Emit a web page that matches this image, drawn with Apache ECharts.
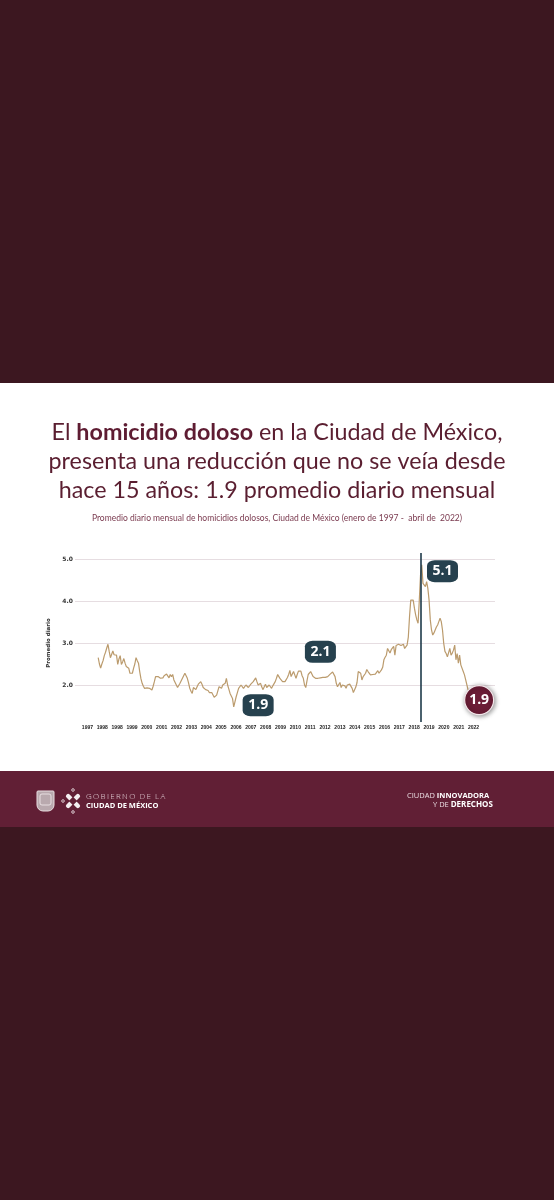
<!DOCTYPE html>
<html><head><meta charset="utf-8">
<script src="https://cdn.jsdelivr.net/npm/echarts@6/dist/echarts.min.js"></script>
<style>
html,body{margin:0;padding:0;background:#3c1720;}
#wrap{position:relative;width:554px;height:1200px;background:#3c1720;}
#panel{position:absolute;left:0;top:383px;width:554px;height:388px;background:#ffffff;}
#band{position:absolute;left:0;top:771px;width:554px;height:56px;background:#611f35;}
#c{position:absolute;left:0;top:0;width:554px;height:1200px;}
</style>
</head><body>
<div id="wrap"><div id="panel"></div><div id="band"></div><div id="c"></div></div>
<script>
// Tick labels as printed under the chart (note the duplicated 1998)
const tickLabels = ['1997','1998','1998','1999','2000','2001','2002','2003','2004','2005','2006','2007','2008','2009','2010','2011','2012','2013','2014','2015','2016','2017','2018','2019','2020','2021','2022'];

// Monthly daily average of homicides, Jan 1997 - Apr 2022
const y1997 = [2.65,2.50,2.40,2.50,2.58,2.70,2.78,2.88,2.97,2.80,2.65,2.62];
const y1998 = [2.81,2.72,2.68,2.71,2.49,2.62,2.70,2.49,2.55,2.63,2.52,2.44];
const y1999 = [2.42,2.40,2.28,2.30,2.28,2.40,2.50,2.65,2.58,2.52,2.32,2.15];
const y2000 = [2.04,1.97,1.92,1.94,1.93,1.95,1.92,1.90,1.88,1.97,2.08,2.20];
const y2001 = [2.21,2.20,2.18,2.16,2.20,2.17,2.22,2.25,2.26,2.28,2.17,2.25];
const y2002 = [2.20,2.25,2.12,2.08,2.00,1.94,1.98,2.04,2.06,2.16,2.22,2.28];
const y2003 = [2.22,2.16,2.05,1.92,1.85,1.80,1.94,1.90,1.89,1.96,2.02,2.04];
const y2004 = [2.08,2.02,1.94,1.92,1.89,1.88,1.87,1.82,1.78,1.82,1.84,1.71];
const y2005 = [1.74,1.76,1.86,1.96,1.92,1.92,2.00,1.98,2.04,2.16,2.00,1.90];
const y2006 = [1.80,1.74,1.68,1.48,1.60,1.72,1.82,1.92,1.96,2.00,1.98,1.92];
const y2007 = [1.95,2.00,1.96,1.94,1.98,2.02,2.04,2.08,2.12,2.17,2.08,2.00];
const y2008 = [2.04,2.04,1.95,1.89,1.96,2.02,1.94,1.97,2.00,1.96,1.92,1.98];
const y2009 = [2.02,2.08,2.16,2.25,2.20,2.15,2.12,2.08,2.06,2.08,2.10,2.18];
const y2010 = [2.25,2.35,2.20,2.26,2.32,2.24,2.16,2.25,2.33,2.30,2.33,2.22];
const y2011 = [2.16,2.00,1.94,2.10,2.25,2.28,2.32,2.26,2.20,2.22,2.16,2.12];
const y2012 = [2.16,2.20,2.17,2.13,2.18,2.20,2.18,2.16,2.20,2.24,2.26,2.28];
const y2013 = [2.31,2.34,2.20,2.04,1.96,1.92,2.06,1.94,2.00,2.04,1.98,1.92];
const y2014 = [2.00,1.96,2.02,2.04,1.92,1.82,1.86,1.95,2.06,2.32,2.30,2.28];
const y2015 = [2.12,2.20,2.24,2.28,2.37,2.32,2.28,2.24,2.26,2.25,2.24,2.26];
const y2016 = [2.30,2.34,2.28,2.31,2.36,2.42,2.60,2.66,2.71,2.87,2.84,2.76];
const y2017 = [2.84,2.88,2.92,2.71,2.94,2.95,2.97,2.96,2.94,2.95,2.97,2.87];
const y2018 = [2.83,2.95,3.14,3.63,4.02,4.04,4.02,3.83,3.67,3.55,3.47,4.02];
const y2019 = [4.62,4.86,4.42,4.46,4.34,4.46,4.30,4.02,3.55,3.31,3.19,3.24];
const y2020 = [3.31,3.38,3.43,3.51,3.59,3.51,3.31,2.99,2.80,2.75,2.67,2.67];
const y2021 = [2.87,2.71,2.76,2.83,2.95,2.60,2.75,2.52,2.71,2.48,2.44,2.32];
const y2022 = [2.24,2.12,2.00,1.88];

const monthly = [].concat(y1997,y1998,y1999,y2000,y2001,y2002,y2003,y2004,y2005,y2006,y2007,y2008,y2009,
  y2010,y2011,y2012,y2013,y2014,y2015,y2016,y2017,y2018,y2019,y2020,y2021,y2022);

// Annotations (text and their anchor in month-index / value space)
const badgeTexts  = ['1.9','2.1','5.1','1.9'];
const badgeMonth  = [131, 182, 282, 312];
const badgeValue  = [1.52, 2.79, 4.71, 1.64];
const markerMonth = 264; // vertical reference line (change of administration)

const chart = echarts.init(document.getElementById('c'), null, {renderer:'canvas'});
const maroon = '#5a1e30';
const slate = '#26414e';
const titleFont = 'Lato';
const tSize = 23.3;

const badgeData = badgeTexts.map((t,i)=>{
  const last = i === badgeTexts.length-1;
  return {
    name: t, coord: [badgeMonth[i], badgeValue[i]],
    symbol: last ? 'circle' : 'roundRect',
    symbolSize: last ? 29 : [31,22],
    itemStyle: last
      ? {color:'#6b1d36', borderColor:'#f3e6ea', borderWidth:1.2, shadowBlur:5, shadowColor:'rgba(0,0,0,0.45)', shadowOffsetX:1, shadowOffsetY:1}
      : {color: slate}
  };
});

const option = {
  backgroundColor: 'transparent',
  animation: false,
  title: [
    {left:'center', top:416, text:'{r|El }{b|homicidio doloso}{r| en la Ciudad de México,}',
      textStyle:{fontWeight:'normal', rich:{r:{fontSize:tSize,fontFamily:titleFont,fontWeight:'normal',color:maroon},b:{fontSize:tSize,fontFamily:titleFont,fontWeight:'bold',color:'#5e1c32'}}}},
    {left:'center', top:445, text:'presenta una reducción que no se veía desde',
      textStyle:{fontSize:tSize,fontFamily:titleFont,fontWeight:'normal',color:maroon}},
    {left:'center', top:474, text:'hace 15 años: 1.9 promedio diario mensual',
      textStyle:{fontSize:tSize,fontFamily:titleFont,fontWeight:'normal',color:maroon}},
    {left:'center', top:509, text:'Promedio diario mensual de homicidios dolosos, Ciudad de México (enero de 1997 -  abril de  2022)',
      textStyle:{fontSize:8.5,fontFamily:titleFont,fontWeight:'normal',color:'#7a3a4f'}}
  ],
  grid: [
    {left:75, right:59, top:559, height:168},
    {left:80, width:401, top:700, height:20},
    {left:75, right:59, top:553, height:169}
  ],
  xAxis: [
    {gridIndex:0, type:'value', min:-19, max:325, show:false},
    {gridIndex:1, type:'category', data:tickLabels, boundaryGap:true,
      axisLine:{show:false}, axisTick:{show:false},
      axisLabel:{interval:0, fontSize:5, fontWeight:'bold', color:'#222', margin:5, fontFamily:'Liberation Sans'}},
    {gridIndex:2, type:'value', min:-19, max:325, show:false}
  ],
  yAxis: [
    {gridIndex:0, type:'value', min:1, max:5, interval:1,
      axisLine:{show:false}, axisTick:{show:false},
      axisLabel:{formatter:(v)=> v===1 ? '' : v.toFixed(1), fontSize:6, fontWeight:'bold', color:'#333', margin:2, fontFamily:'DejaVu Sans'},
      splitLine:{show:true, lineStyle:{color:['rgba(0,0,0,0)','#e6dde1','#e6dde1','#e6dde1','#e6dde1'], width:1}},
      name:'Promedio diario', nameLocation:'middle', nameGap:10, nameRotate:90,
      nameTextStyle:{fontSize:5.5, fontWeight:'bold', color:'#333', fontFamily:'DejaVu Sans'}},
    {gridIndex:1, type:'value', show:false},
    {gridIndex:2, type:'value', min:0, max:1, show:false}
  ],
  series: [
    {type:'line', xAxisIndex:0, yAxisIndex:0, data: monthly.map((v,i)=>[i,v]),
      showSymbol:false, symbol:'none', lineStyle:{color:'#bb9b6d', width:1.2}, z:3,
      markPoint:{silent:true, data: badgeData,
        label:{show:true, position:'inside', formatter:(p)=>p.name, color:'#fff', fontSize:14, fontWeight:'bold', fontFamily:'Open Sans'}}},
    {type:'line', xAxisIndex:2, yAxisIndex:2, data:[], symbol:'none', z:4,
      markLine:{silent:true, symbol:'none', label:{show:false},
        lineStyle:{color:'#1e3a4a', width:1.6, type:'solid'},
        data:[{xAxis: markerMonth}]}}
  ],
  graphic: [
    // shield emblem
    {type:'rect', shape:{x:37,y:791,width:17,height:20,r:[1,1,6,6]}, style:{fill:'#b9a9ae', stroke:'#e8dde0', lineWidth:1}},
    {type:'rect', shape:{x:40,y:794,width:11,height:11,r:2}, style:{fill:'none', stroke:'#f2ebed', lineWidth:0.8}},
    // CDMX symbol
    {type:'group', x:73, y:801, children:[
      {type:'rect', shape:{x:-9,y:-2.2,width:18,height:4.4,r:2}, rotation:Math.PI/4, style:{fill:'#f4eef0'}},
      {type:'rect', shape:{x:-9,y:-2.2,width:18,height:4.4,r:2}, rotation:-Math.PI/4, style:{fill:'#f4eef0'}},
      {type:'rect', shape:{x:-3,y:-3,width:6,height:6}, rotation:Math.PI/4, style:{fill:'#611f35'}},
      {type:'circle', shape:{cx:0,cy:-11,r:1.3}, style:{fill:'none',stroke:'#f4eef0',lineWidth:0.8}},
      {type:'circle', shape:{cx:0,cy:11,r:1.3}, style:{fill:'none',stroke:'#f4eef0',lineWidth:0.8}},
      {type:'circle', shape:{cx:-10,cy:0,r:1.3}, style:{fill:'none',stroke:'#f4eef0',lineWidth:0.8}}
    ]},
    {type:'text', left:86, top:793, style:{text:'G\u2009O\u2009B\u2009I\u2009E\u2009R\u2009N\u2009O  D\u2009E  L\u2009A', fill:'#e4d2d8', font:'300 8px "Open Sans"'}},
    {type:'text', left:86, top:802, style:{text:'CIUDAD DE MÉXICO', fill:'#ffffff', font:'bold 7.5px "Open Sans"'}},
    {type:'text', left:407, top:792, style:{text:'{n|CIUDAD }{b|INNOVADORA}',
      rich:{n:{fontSize:7.5,fontFamily:'Open Sans',fill:'#e9dbe0',color:'#e9dbe0'},b:{fontSize:7.5,fontFamily:'Open Sans',fontWeight:'bold',fill:'#ffffff',color:'#ffffff'}}}},
    {type:'text', left:433, top:801, style:{text:'{n|Y DE }{b|DERECHOS}',
      rich:{n:{fontSize:7.5,fontFamily:'Open Sans',fill:'#e9dbe0',color:'#e9dbe0'},b:{fontSize:8,fontFamily:'Open Sans',fontWeight:'bold',fill:'#ffffff',color:'#ffffff'}}}}
  ]
};
chart.setOption(option);
</script>
</body></html>
